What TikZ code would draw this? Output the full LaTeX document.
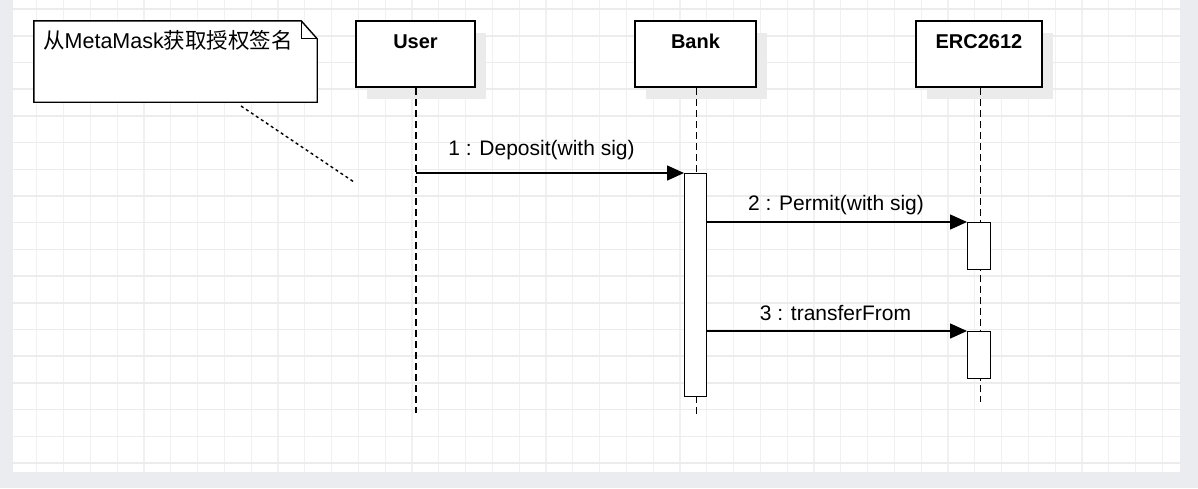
\documentclass[tikz,border=0pt]{standalone}
\usepackage{fontspec}
\setmainfont{Liberation Sans}
\newfontfamily\cjk{Noto Sans CJK SC}
\usetikzlibrary{arrows.meta,calc,shadows}
\definecolor{bggray}{HTML}{EAECF0}
\definecolor{gridv}{HTML}{F1F1F1}
\definecolor{gridh}{HTML}{ECECEC}
\definecolor{shadowc}{HTML}{EBEBEB}
\begin{document}
\begin{tikzpicture}[x=1pt,y=-1pt,
  lifebox/.style={draw=black, line width=1.4pt, fill=white, minimum width=#1,
    minimum height=66pt, inner sep=0pt,
    drop shadow={shadow xshift=11pt, shadow yshift=-12pt, fill=shadowc, opacity=1}},
  titletext/.style={font=\bfseries\fontsize{20}{20}\selectfont, inner sep=0pt},
  msgtext/.style={font=\fontsize{21}{21}\selectfont, inner sep=0pt},
  lifeuser/.style={line width=2pt, dash pattern=on 7pt off 4pt},
  lifethin/.style={line width=1pt, dash pattern=on 7pt off 4pt},
  actbox/.style={draw=black, line width=1.2pt, fill=white, anchor=north west,
    inner sep=0pt, minimum width=22pt, minimum height=#1},
  msg/.style={line width=1.5pt, -{Triangle[length=17pt,width=15pt]}},
  notelink/.style={line width=1.4pt, dash pattern=on 3pt off 3pt},
  gridvl/.style={draw=gridv, line width=1.2pt},
  gridhl/.style={draw=gridh, line width=1.5pt}
]
\useasboundingbox (0,0) rectangle (1198,488);
% background
\fill[bggray] (0,0) rectangle (1198,488);
\fill[white] (13,0) rectangle (1180,472);
\begin{scope}
  \clip (13,0) rectangle (1180,472);
  \foreach \k in {0,...,44} {
    \draw[gridvl] ({10+26.8*\k},0) -- ({10+26.8*\k},472);
  }
  \foreach \k in {0,...,17} {
    \draw[gridhl] (13,{9.1+26.7*\k}) -- (1180,{9.1+26.7*\k});
  }
\end{scope}

% note
\node[inner sep=0pt, minimum width=283pt, minimum height=81pt] (note) at (175.5,61.5) {};
\draw[line width=1.4pt, fill=white]
  (note.north west) -- ($(note.north east)+(-16,0)$) -- ($(note.north east)+(0,18)$)
  -- (note.south east) -- (note.south west) -- cycle;
\draw[line width=1.2pt] ($(note.north east)+(-16,0)$) -- ($(note.north east)+(-16,18)$) -- ($(note.north east)+(0,18)$);
\node[anchor=west, inner sep=0pt, font=\fontsize{21.5}{21.5}\selectfont] (notetext) at (43,40) {{\cjk 从}MetaMask{\cjk 获取授权签名}};
\coordinate (nstart) at (241,106);
\coordinate (nend) at (354,182);
\draw[notelink] (nstart) -- (nend);

% participants
\node[lifebox=119pt] (user) at (415.5,54) {};
\node[lifebox=121pt] (bank) at (695.5,54) {};
\node[lifebox=126pt] (erc) at (979,54) {};
\node[titletext] (usert) at ($(user.north)+(0,21)$) {User};
\node[titletext] (bankt) at ($(bank.north)+(0,21)$) {Bank};
\node[titletext] (erct) at ($(erc.north)+(0,21)$) {ERC2612};

% lifelines
\coordinate (uend) at (416,413);
\coordinate (bend) at (696,414);
\coordinate (eend) at (980,402);
\draw[lifeuser] (416,88) -- (uend);
\draw[lifethin] (696,88) -- (bend);
\draw[lifethin] (980,88) -- (eend);

% activations
\node[actbox=223pt] (bact) at (684,173) {};
\node[actbox=47pt, minimum width=23pt] (eact1) at (967,222) {};
\node[actbox=47pt, minimum width=23pt] (eact2) at (967,331) {};

% messages
\coordinate (u1) at (416,173);
\draw[msg] (u1) -- (bact.north west);
\draw[msg] ($(bact.north east)+(0,49)$) -- (eact1.north west);
\draw[msg] ($(bact.north east)+(0,158)$) -- (eact2.north west);
\node[msgtext] (m1) at (541.5,150) {1 : Deposit(with sig)};
\node[msgtext] (m2) at (836,205) {2 : Permit(with sig)};
\node[msgtext] (m3) at (835.5,313) {3 : transferFrom};
\end{tikzpicture}
\end{document}
